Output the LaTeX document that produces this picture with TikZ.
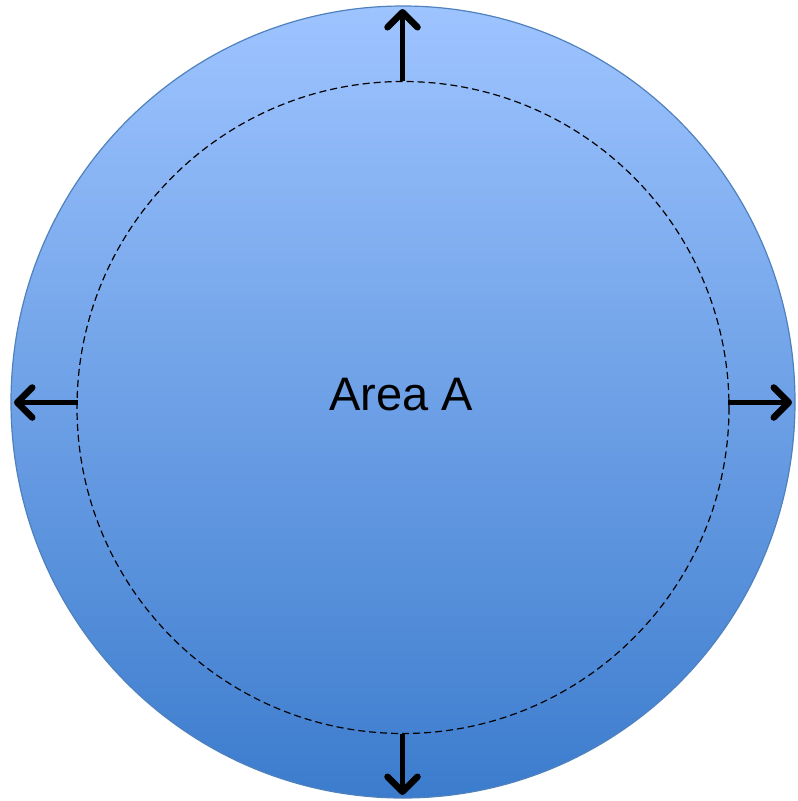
\documentclass[tikz,border=0pt]{standalone}
\usepackage{fontspec}
\setmainfont{Liberation Sans}
\usetikzlibrary{arrows.meta}
\definecolor{topblue}{HTML}{9EC4FF}
\definecolor{botblue}{HTML}{3C7CCD}
\definecolor{rimblue}{HTML}{4F81BD}
\tikzset{
  outward/.style={line width=5.5pt, -{Straight Barb[length=15pt, width=30pt, line width=6.5pt, line cap=round, line join=round]}, black},
}
\begin{document}
\begin{tikzpicture}[x=1pt,y=-1pt]
\useasboundingbox (0,0) rectangle (798,801);
\path[draw=rimblue, line width=1.2pt, top color=topblue, bottom color=botblue] (403,402) ellipse [x radius=392, y radius=396];
\draw[line width=1.2pt, dash pattern=on 7pt off 4pt] (403,407.5) circle [radius=326];
\coordinate (inT) at (402.5,81);
\coordinate (inB) at (402.5,734);
\coordinate (inL) at (78,402.5);
\coordinate (inR) at (728,402.5);
\coordinate (outT) at (402.5,9);
\coordinate (outB) at (402.5,795);
\coordinate (outL) at (14,402.5);
\coordinate (outR) at (792,402.5);
\draw[outward] (inT) -- (outT);
\draw[outward] (inB) -- (outB);
\draw[outward] (inL) -- (outL);
\draw[outward] (inR) -- (outR);
\node[font=\fontsize{47pt}{54pt}\selectfont, inner sep=0pt] (label) at (401,395) {Area A};
\end{tikzpicture}
\end{document}
